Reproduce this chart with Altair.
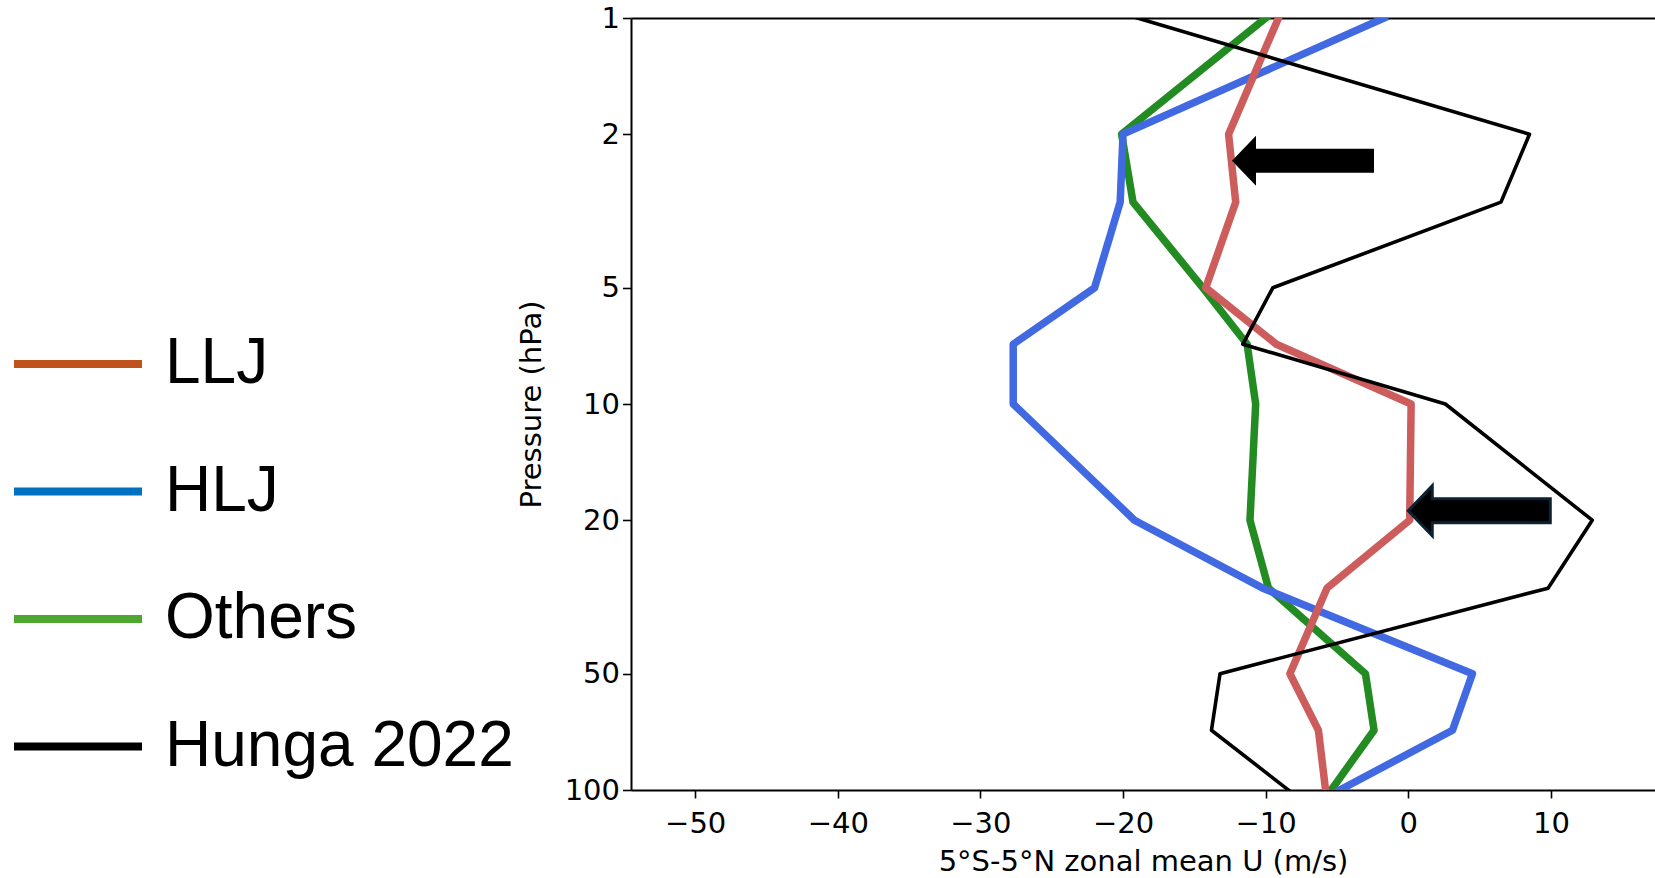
import altair as alt
import pandas as pd

# ---- data ----
pressure = [1, 2, 3, 5, 7, 10, 20, 30, 50, 70, 100]
llj = [-9.1, -12.6, -12.1, -14.2, -9.25, 0.2, 0.1, -5.7, -8.3, -6.3, -5.8]
hlj = [-1.7, -20.0, -20.2, -22.0, -27.7, -27.7, -19.2, -10.2, 4.5, 3.1, -4.8]
others = [-10.0, -20.1, -19.3, -14.4, -11.3, -10.7, -11.1, -9.8, -3.0, -2.4, -5.4]
hunga = [-19.0, 8.5, 6.5, -9.5, -11.6, 2.6, 12.9, 9.8, -13.2, -13.8, -8.4]

series_names = ["LLJ", "HLJ", "Others", "Hunga 2022"]
line_colors = ["#CD5C5C", "#4169E1", "#228B22", "#000000"]
legend_colors = ["#C0531C", "#0070C0", "#4EA72E", "#000000"]
line_widths = [7.5, 7.5, 7.5, 3.6]

arrow_u = [-12.36, 0.0]
arrow_p = [2.343, 18.9]

x_ticks = [-50, -40, -30, -20, -10, 0, 10]
y_major = [1, 2, 5, 10, 20, 50, 100]
y_minor = [3, 4, 6, 7, 8, 9, 30, 40, 60, 70, 80, 90]

# ---- tables ----
rows = []
for name, vals in zip(series_names, [llj, hlj, others, hunga]):
    for p, u in zip(pressure, vals):
        rows.append({"series": name, "p": p, "u": u})
df = pd.DataFrame(rows)
arrows = pd.DataFrame({"u": arrow_u, "p": arrow_p, "k": [0, 1]})

FONT = "DejaVu Sans"
FS = 29
xscale = alt.Scale(domain=[-54.5, 17.3], nice=False, zero=False)
yscale = alt.Scale(type="log", domain=[1, 100], reverse=True, nice=False)

xaxis = alt.Axis(
    values=x_ticks, title="5°S-5°N zonal mean U (m/s)", grid=False,
    tickSize=8, tickWidth=1.6, tickColor="black",
    domainColor="black", domainWidth=2,
    labelFont=FONT, labelFontSize=FS, labelColor="black", labelPadding=11,
    labelFlush=False, labelOverlap=False,
    titleFont=FONT, titleFontSize=FS, titleFontWeight="normal", titleColor="black",
    titlePadding=9,
)
yaxis = alt.Axis(
    values=y_major, title="Pressure (hPa)", grid=False, format="d",
    tickSize=8.5, tickWidth=1.6, tickColor="black",
    domainColor="black", domainWidth=2,
    labelFont=FONT, labelFontSize=FS, labelColor="black", labelPadding=3,
    labelFlush=False, labelOverlap=False,
    titleFont=FONT, titleFontSize=FS, titleFontWeight="normal", titleColor="black",
    titlePadding=18,
)
yaxis_minor = alt.Axis(
    values=y_minor, labels=False, title=None, grid=False, domain=False,
    tickSize=4.5, tickWidth=1.3, tickColor="black", offset=0,
)

layers = []
# draw order: Others, HLJ, LLJ, Hunga
first = True
for idx in [2, 1, 0, 3]:
    name = series_names[idx]
    ch = alt.Chart(df).transform_filter(alt.datum.series == name).mark_line(
        color=line_colors[idx], strokeWidth=line_widths[idx], clip=True,
        strokeJoin="round", strokeCap="square",
    ).encode(
        x=alt.X("u:Q", scale=xscale, axis=xaxis if first else None),
        y=alt.Y("p:Q", scale=yscale, axis=yaxis if first else None),
        order="p:Q",
    )
    first = False
    layers.append(ch)

# top spine, minor y ticks and legend (invisible lines carrying the legend colours)
legend_layer = alt.Chart(df).mark_line(opacity=0).encode(
    x=alt.X("u:Q", scale=xscale, axis=alt.Axis(
        orient="top", labels=False, ticks=False, title=None, grid=False,
        domainColor="black", domainWidth=2)),
    y=alt.Y("p:Q", scale=yscale, axis=yaxis_minor),
    order="p:Q",
    color=alt.Color("series:N", scale=alt.Scale(domain=series_names, range=legend_colors),
                    legend=alt.Legend(
                        orient="none", legendX=-621, legendY=278, title=None,
                        symbolType="stroke", symbolSize=16384, symbolStrokeWidth=8,
                        symbolOpacity=1, labelFont="Liberation Sans", labelFontSize=64,
                        labelColor="black", labelOffset=19, rowPadding=27.5, padding=0,
                        labelLimit=700, symbolOffset=0)),
)
layers.append(legend_layer)

ARROW = "M 0 0 L 2.4 -2.5 L 2.4 -1.2 L 14.2 -1.2 L 14.2 1.2 L 2.4 1.2 L 2.4 2.5 Z"
arrow1 = alt.Chart(arrows).transform_filter(alt.datum.k == 0).mark_point(
    shape=ARROW, size=400, filled=True, color="black", opacity=1, strokeWidth=0,
).encode(x=alt.X("u:Q", scale=xscale, axis=None), y=alt.Y("p:Q", scale=yscale, axis=None))
arrow2 = alt.Chart(arrows).transform_filter(alt.datum.k == 1).mark_point(
    shape=ARROW, size=400, filled=True, fill="black", stroke="#0B2233",
    strokeWidth=3, opacity=1,
).encode(x=alt.X("u:Q", scale=xscale, axis=None), y=alt.Y("p:Q", scale=yscale, axis=None))
layers += [arrow1, arrow2]

chart = alt.layer(*layers).resolve_axis(x="independent", y="independent").properties(
    width=1024, height=772,
    padding={"left": 631, "top": 18, "right": 0, "bottom": 88},
    autosize=alt.AutoSizeParams(type="none"),
    background="white",
).configure_view(strokeWidth=0)

chart.save("out.html", embed_options={"renderer": "svg", "actions": False})
